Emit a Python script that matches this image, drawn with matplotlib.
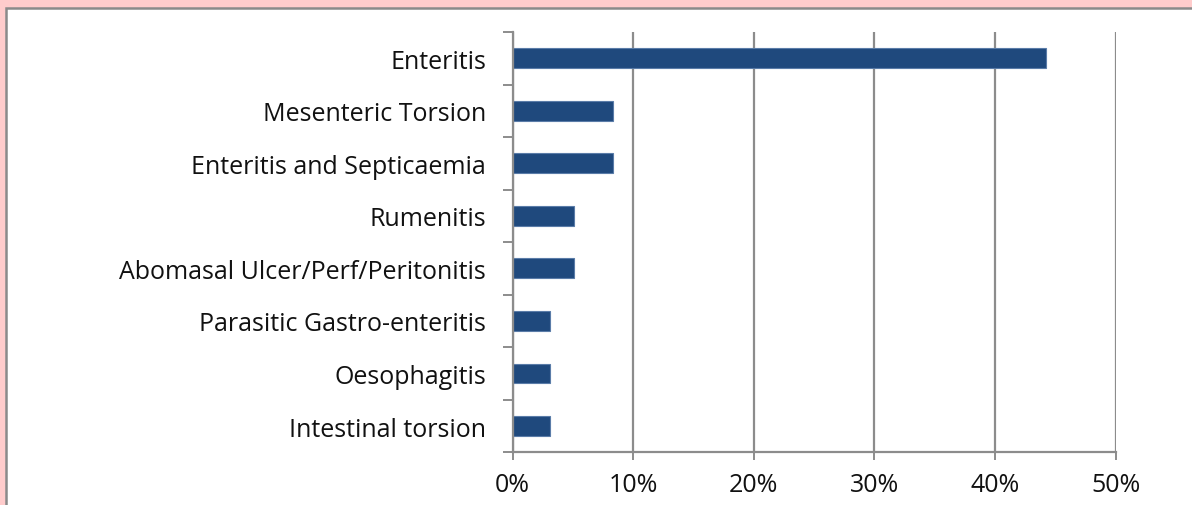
import matplotlib
matplotlib.use("Agg")
import matplotlib.pyplot as plt
from matplotlib.patches import Rectangle
from matplotlib.ticker import FixedLocator, PercentFormatter

categories = [
    "Enteritis",
    "Mesenteric Torsion",
    "Enteritis and Septicaemia",
    "Rumenitis",
    "Abomasal Ulcer/Perf/Peritonitis",
    "Parasitic Gastro-enteritis",
    "Oesophagitis",
    "Intestinal torsion",
]
values = [44.2, 8.3, 8.3, 5.1, 5.1, 3.1, 3.1, 3.1]
xticks = [0, 10, 20, 30, 40, 50]

plt.rcParams['font.family'] = ['Open Sans', 'DejaVu Sans']

W, H = 1192, 506
fig = plt.figure(figsize=(W / 100, H / 100), dpi=100)
fig.patch.set_facecolor('#FFCCCC')

# white inner panel with grey border
panel = Rectangle((6 / W, -0.05), 1.1, 1 - 9 / H + 0.05, transform=fig.transFigure,
                  facecolor='white', edgecolor='#8A8A8A', linewidth=1.8, zorder=-10)
fig.patches.append(panel)

ax = fig.add_axes([512.5 / W, 1 - 453.3 / H, (1115.7 - 512.5) / W, (453.3 - 33) / H])
ax.set_facecolor('none')
ax.set_zorder(5)

n = len(categories)
ypos = list(range(n))
ax.barh(ypos, values, height=0.38, color='#1F497D', edgecolor='#5A7CA8', linewidth=0.8, zorder=3)

ax.set_xlim(0, 50)
ax.set_ylim(n - 0.5, -0.5)

ax.set_xticks(xticks)
ax.xaxis.set_major_formatter(PercentFormatter(decimals=0))
ax.grid(axis='x', color='#8C8C8C', linewidth=1.6, zorder=1)

ax.set_yticks(ypos)
ax.set_yticklabels(categories)
ax.yaxis.set_minor_locator(FixedLocator([i - 0.5 for i in range(n + 1)]))
ax.tick_params(axis='y', which='major', length=0, pad=19, labelsize=18, labelcolor='#111111')
ax.tick_params(axis='y', which='minor', length=7, width=1.4, color='#8C8C8C', direction='out')
ax.tick_params(axis='x', which='major', length=5.5, width=1.4, color='#8C8C8C', pad=8.5,
               labelsize=18, labelcolor='#111111')

for s in ['top', 'right']:
    ax.spines[s].set_visible(False)
for s in ['left', 'bottom']:
    ax.spines[s].set_color('#8C8C8C')
    ax.spines[s].set_linewidth(1.6)
    ax.spines[s].set_zorder(4)

fig.savefig('out.png', dpi=100, facecolor=fig.get_facecolor())
